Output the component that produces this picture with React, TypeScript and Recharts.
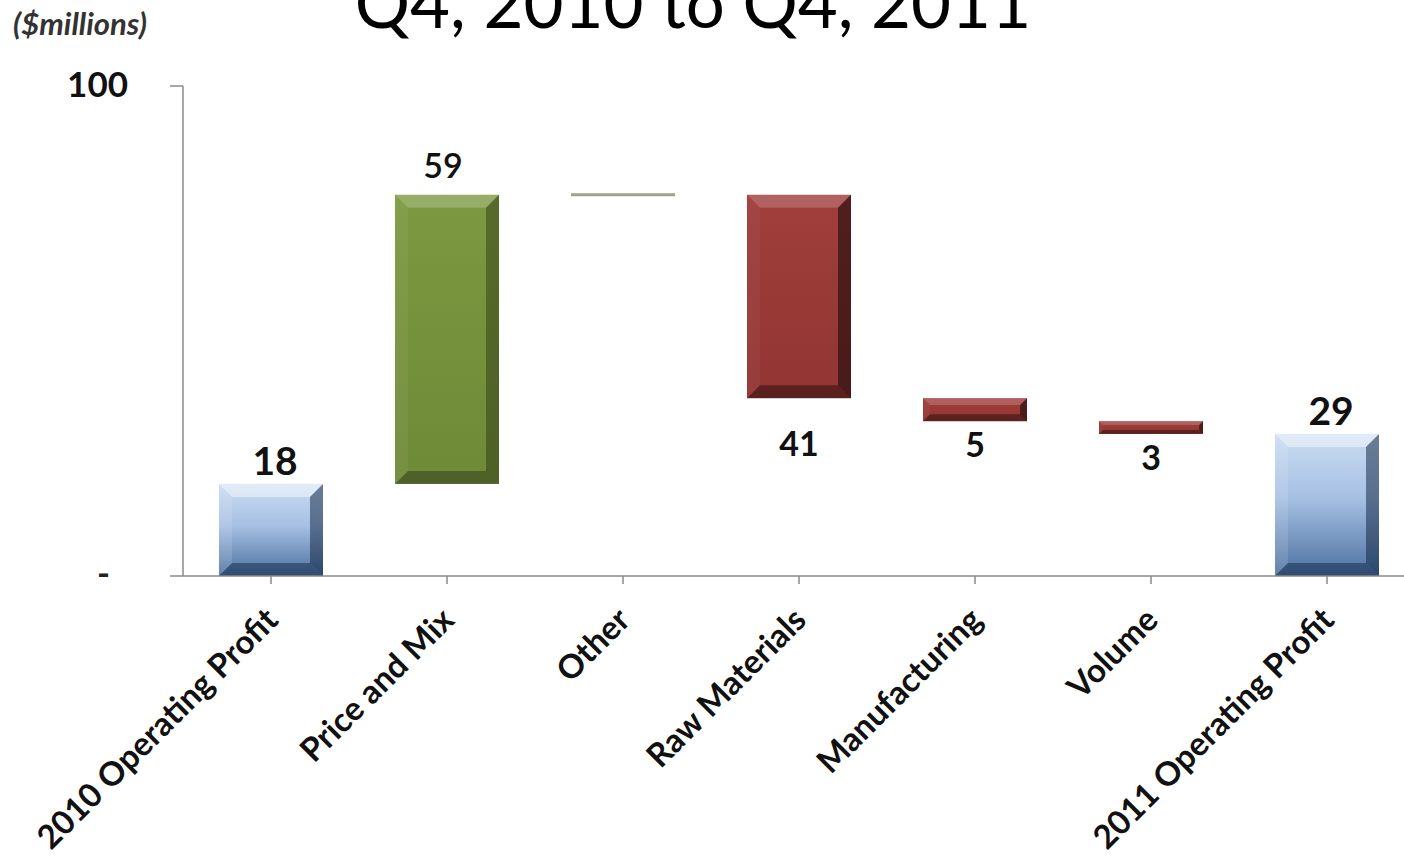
import { BarChart, Bar, XAxis, YAxis } from "recharts"

const categories = [
  "2010 Operating Profit",
  "Price and Mix",
  "Other",
  "Raw Materials",
  "Manufacturing",
  "Volume",
  "2011 Operating Profit",
]

// bar heights ($ millions)
const amounts = [18.8, 59.0, 0, -41.5, -4.7, -2.6, 29.0]
const barKinds = ["total", "up", "flat", "down", "down", "down", "total"]
const valueLabels = ["18", "59", "", "41", "5", "3", "29"]
const yTicks = [0, 100]

const FONT = "Lato, 'Open Sans', sans-serif"
const AXIS_GRAY = "#8a8a8a"

// extra space under a few labels, as in the source slide
const LABEL_NUDGE: Record<string, number> = { "Raw Materials": 22 }

let level = 0
const data = categories.map((name, i) => {
  const kind = barKinds[i]
  let range: [number, number]
  if (kind === "total") {
    range = [0, amounts[i]]
    level = amounts[i]
  } else {
    const end = level + amounts[i]
    range = [Math.min(level, end), Math.max(level, end)]
    level = end
  }
  return { name, range, kind, label: valueLabels[i] }
})

const BEVEL: Record<string, { top: string; left: string; right: string; bottom: string }> = {
  total: {
    top: "rgba(255,255,255,0.45)",
    left: "rgba(255,255,255,0.12)",
    right: "rgba(10,30,60,0.5)",
    bottom: "rgba(10,30,60,0.45)",
  },
  up: {
    top: "rgba(255,255,255,0.2)",
    left: "rgba(255,255,255,0.05)",
    right: "rgba(0,0,0,0.3)",
    bottom: "rgba(0,0,0,0.3)",
  },
  down: {
    top: "rgba(255,255,255,0.18)",
    left: "rgba(255,255,255,0.04)",
    right: "rgba(0,0,0,0.5)",
    bottom: "rgba(0,0,0,0.38)",
  },
}

const BODY: Record<string, string[]> = {
  total: ["#cadcf2", "#a6c0e3", "#4d71a0"],
  up: ["#7c9a41", "#76923c", "#6f8a38"],
  down: ["#a03f3c", "#9a3a37", "#923533"],
}

function WaterfallBar(props: any) {
  const { x, y, width, height, payload, index } = props
  const top = height < 0 ? y + height : y
  const h = Math.abs(height)
  const w = width
  const kind = payload.kind
  const cx = x + w / 2
  const label = payload.label
  const id = `wf-body-${index}`

  if (kind === "flat") {
    return (
      <line x1={x} x2={x + w} y1={top} y2={top} stroke="#a0a38a" strokeWidth={3} />
    )
  }

  const b = Math.min(13, h * 0.3, w * 0.2)
  const bv = BEVEL[kind]
  const stops = BODY[kind]
  const bottomY = top + h

  let labelNode = null
  if (kind === "total") {
    labelNode = (
      <text x={cx + 4} y={top - 9} textAnchor="middle" fontFamily={FONT} fontWeight={700} fontSize={39} fill="#111">
        {label}
      </text>
    )
  } else if (kind === "up") {
    labelNode = (
      <text x={cx - 4} y={top - 17} textAnchor="middle" fontFamily={FONT} fontWeight={600} fontSize={34} fill="#111">
        {label}
      </text>
    )
  } else {
    const nudge = LABEL_NUDGE[payload.name] || 0
    labelNode = (
      <text x={cx} y={bottomY + 12 + nudge + 24} textAnchor="middle" fontFamily={FONT} fontWeight={700} fontSize={34} fill="#111">
        {label}
      </text>
    )
  }

  return (
    <g>
      <defs>
        <linearGradient id={id} x1="0" y1="0" x2="0" y2="1">
          <stop offset="0%" stopColor={stops[0]} />
          <stop offset="45%" stopColor={stops[1]} />
          <stop offset="100%" stopColor={stops[2]} />
        </linearGradient>
      </defs>
      <rect x={x} y={top} width={w} height={h} fill={`url(#${id})`} />
      <polygon points={`${x},${top} ${x + w},${top} ${x + w - b},${top + b} ${x + b},${top + b}`} fill={bv.top} />
      <polygon points={`${x},${top} ${x + b},${top + b} ${x + b},${bottomY - b} ${x},${bottomY}`} fill={bv.left} />
      <polygon points={`${x + w},${top} ${x + w - b},${top + b} ${x + w - b},${bottomY - b} ${x + w},${bottomY}`} fill={bv.right} />
      <polygon points={`${x},${bottomY} ${x + w},${bottomY} ${x + w - b},${bottomY - b} ${x + b},${bottomY - b}`} fill={bv.bottom} />
      {labelNode}
    </g>
  )
}

function CategoryTick(props: any) {
  const { x, y, payload } = props
  const ax = x + 9
  const ay = y + 36
  return (
    <text
      x={ax}
      y={ay}
      textAnchor="end"
      transform={`rotate(-45, ${ax}, ${ay})`}
      fontFamily={FONT}
      fontWeight={700}
      fontSize={33}
      fill="#111"
    >
      {payload.value}
    </text>
  )
}

function ValueTick(props: any) {
  const { x, y, payload } = props
  if (payload.value === 0) {
    return (
      <text x={x - 18} y={y} dy={10} textAnchor="end" fontFamily={FONT} fontWeight={700} fontSize={35} fill="#222">
        -
      </text>
    )
  }
  return (
    <text x={x} y={y} dy={11} textAnchor="end" fontFamily={FONT} fontWeight={700} fontSize={35} fill="#111">
      {payload.value}
    </text>
  )
}

export default function App() {
  return (
    <div
      style={{
        position: "absolute",
        left: 0,
        top: 0,
        width: 1404,
        height: 861,
        overflow: "hidden",
        background: "#fff",
      }}
    >
      <BarChart
        width={1415}
        height={861}
        data={data}
        margin={{ top: 86, right: 0, bottom: 0, left: 0 }}
      >
        <XAxis
          dataKey="name"
          height={285}
          interval={0}
          tickSize={8}
          axisLine={{ stroke: AXIS_GRAY, strokeWidth: 1.5 }}
          tickLine={{ stroke: AXIS_GRAY, strokeWidth: 1.5 }}
          tick={<CategoryTick />}
        />
        <YAxis
          width={183}
          domain={[0, 100]}
          ticks={yTicks}
          tickSize={13}
          tickMargin={42}
          axisLine={{ stroke: AXIS_GRAY, strokeWidth: 1.5 }}
          tickLine={{ stroke: AXIS_GRAY, strokeWidth: 1.5 }}
          tick={<ValueTick />}
        />
        <Bar dataKey="range" barSize={104} shape={<WaterfallBar />} isAnimationActive={false} />
      </BarChart>
      <svg
        width={1404}
        height={861}
        style={{ position: "absolute", left: 0, top: 0, pointerEvents: "none" }}
      >
        <text x={693} y={28} textAnchor="middle" fontFamily={FONT} fontSize={69} fill="#000">
          Q4, 2010 to Q4, 2011
        </text>
        <text x={13} y={35} fontFamily={FONT} fontWeight={700} fontStyle="italic" fontSize={31} fill="#333">
          ($millions)
        </text>
      </svg>
    </div>
  )
}
